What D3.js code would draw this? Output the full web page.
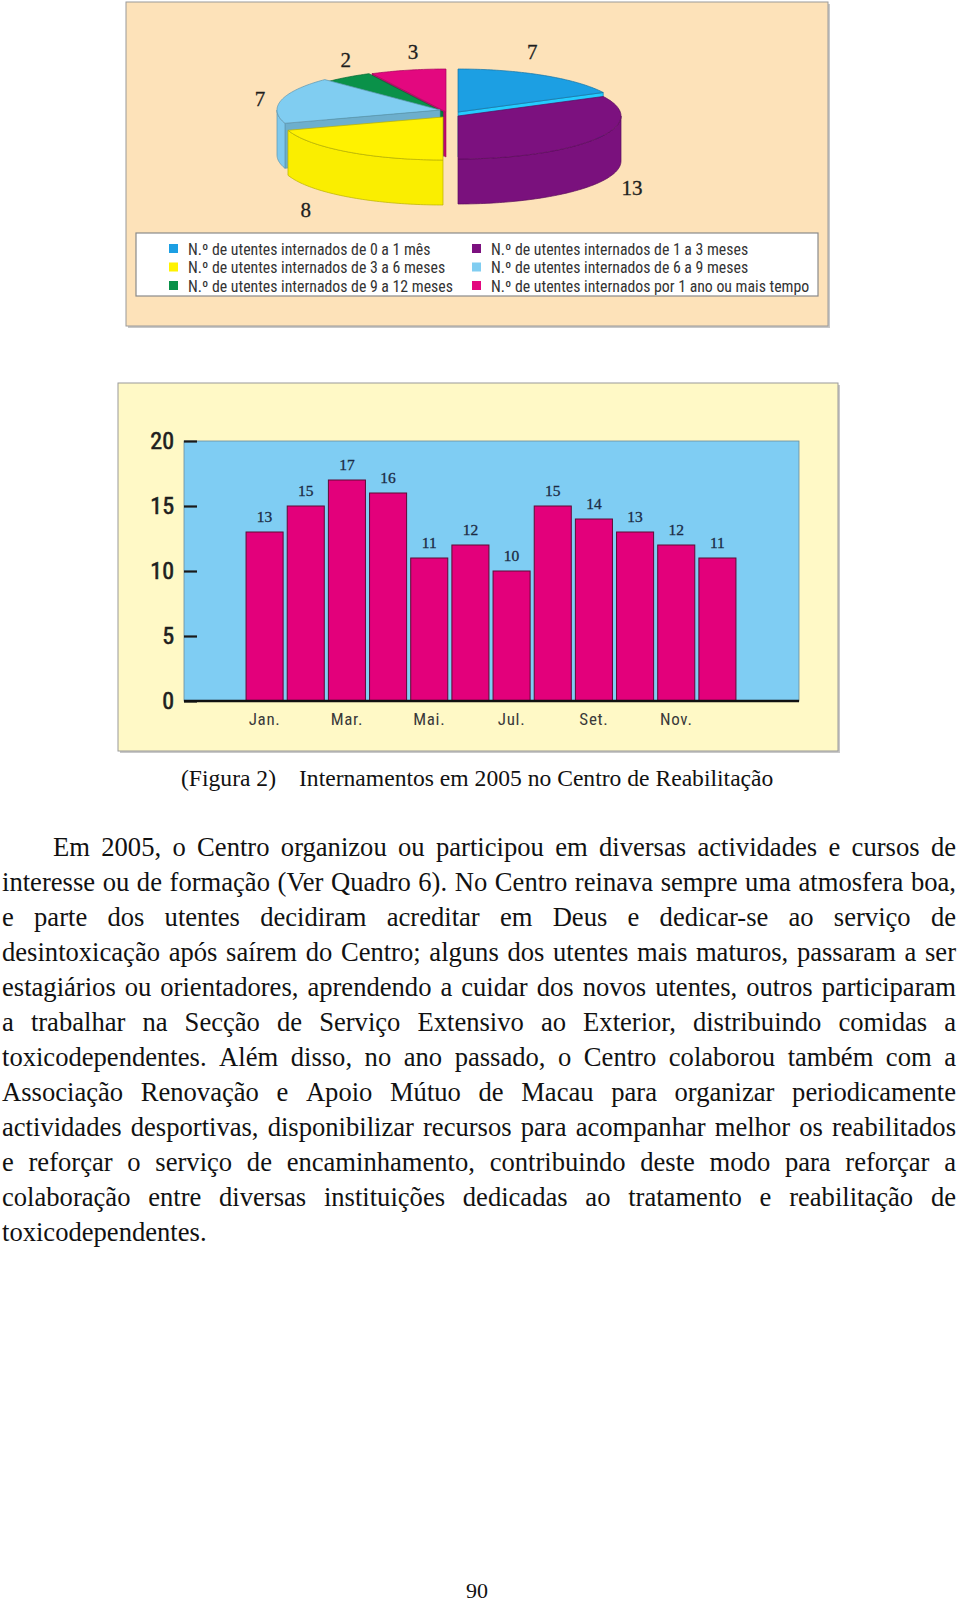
<!DOCTYPE html>
<html><head><meta charset="utf-8">
<script src="https://cdn.jsdelivr.net/npm/d3@7"></script>
<style>body{margin:0;background:#fff} svg{display:block}</style>
</head><body>
<svg id="page" width="960" height="1602"></svg>
<script>
// ---------- DATA ----------
const pieCategories = [
  "N.º de utentes internados de 0 a 1 mês",
  "N.º de utentes internados de 1 a 3 meses",
  "N.º de utentes internados de 3 a 6 meses",
  "N.º de utentes internados de 6 a 9 meses",
  "N.º de utentes internados de 9 a 12 meses",
  "N.º de utentes internados por 1 ano ou mais tempo"
];
const pieValues = [7, 13, 8, 7, 2, 3];
const pieColors = ["#1c9fe3", "#7c117f", "#fff200", "#80cdf1", "#0a9149", "#e3087f"];

const months = ["Jan.","Fev.","Mar.","Abr.","Mai.","Jun.","Jul.","Ago.","Set.","Out.","Nov.","Dez."];
const monthValues = [13, 15, 17, 16, 11, 12, 10, 15, 14, 13, 12, 11];
const monthTickLabels = ["Jan.","Mar.","Mai.","Jul.","Set.","Nov."];
const yTickValues = [0, 5, 10, 15, 20];

const captionLabel = "(Figura 2)";
const captionTitle = "Internamentos em 2005 no Centro de Reabilitação";
const bodyLines = [
  "Em 2005, o Centro organizou ou participou em diversas actividades e cursos de",
  "interesse ou de formação (Ver Quadro 6). No Centro reinava sempre uma atmosfera boa,",
  "e parte dos utentes decidiram acreditar em Deus e dedicar-se ao serviço de",
  "desintoxicação após saírem do Centro; alguns dos utentes mais maturos, passaram a ser",
  "estagiários ou orientadores, aprendendo a cuidar dos novos utentes, outros participaram",
  "a trabalhar na Secção de Serviço Extensivo ao Exterior, distribuindo comidas a",
  "toxicodependentes. Além disso, no ano passado, o Centro colaborou também com a",
  "Associação Renovação e Apoio Mútuo de Macau para organizar periodicamente",
  "actividades desportivas, disponibilizar recursos para acompanhar melhor os reabilitados",
  "e reforçar o serviço de encaminhamento, contribuindo deste modo para reforçar a",
  "colaboração entre diversas instituições dedicadas ao tratamento e reabilitação de",
  "toxicodependentes."
];
const pageNumber = "90";

// ---------- LAYOUT ----------
const svg = d3.select("#page");
const narrow = "'Liberation Sans Narrow','Roboto Condensed','Liberation Sans',sans-serif";
const serif = "'Liberation Serif','DejaVu Serif',serif";

function panel(x, y, w, h, fill) {
  svg.append("rect").attr("x", x + 2).attr("y", y + 2).attr("width", w).attr("height", h).attr("fill", "#c8c8c8");
  svg.append("rect").attr("x", x).attr("y", y).attr("width", w).attr("height", h)
    .attr("fill", fill).attr("stroke", "#9a9a9a").attr("stroke-width", 1);
}

// ===== PIE PANEL =====
panel(126, 2, 702, 324, "#fde2b9");

const P = { cx: 450, cy: 114, rx: 163, ry: 43, depth: 45 };
// per-slice explode offsets (layout)
const explode = [[8, -2], [8, 2], [-7, 3], [-10, -4], [-7, -2], [-4, -2]];
// label placement (layout)
const labelR = { rx: 184, ry: 62 };
const labelNudge = [[-22, -7], [17, -6], [-29, -3], [-1, 3], [11, -2], [10, 0]];
const arcs = d3.pie().sort(null).value(d => d)(pieValues);

function ept(a, cx, cy, dy) { return [cx + P.rx * Math.sin(a), cy - P.ry * Math.cos(a) + (dy || 0)]; }
function topPath(s, e, cx, cy) {
  const p = d3.path(); p.moveTo(cx, cy);
  const n = Math.max(4, Math.ceil((e - s) / 0.02));
  for (let i = 0; i <= n; i++) { const q = ept(s + (e - s) * i / n, cx, cy); p.lineTo(q[0], q[1]); }
  p.closePath(); return p.toString();
}
function sidePath(s, e, cx, cy) {
  const a0 = Math.max(s, Math.PI / 2), a1 = Math.min(e, 3 * Math.PI / 2);
  if (a1 <= a0) return null;
  const p = d3.path(); const n = Math.max(4, Math.ceil((a1 - a0) / 0.02));
  for (let i = 0; i <= n; i++) { const q = ept(a0 + (a1 - a0) * i / n, cx, cy); i ? p.lineTo(q[0], q[1]) : p.moveTo(q[0], q[1]); }
  for (let i = n; i >= 0; i--) { const q = ept(a0 + (a1 - a0) * i / n, cx, cy, P.depth); p.lineTo(q[0], q[1]); }
  p.closePath(); return p.toString();
}
function facePath(a, cx, cy) {
  const r = ept(a, cx, cy), rb = ept(a, cx, cy, P.depth);
  return `M${cx},${cy}L${r[0]},${r[1]}L${rb[0]},${rb[1]}L${cx},${cy + P.depth}Z`;
}
const gPie = svg.append("g");
const drawOrder = [5, 4, 3, 2, 0, 1];
drawOrder.forEach(i => {
  const a = arcs[i], cx = P.cx + explode[i][0], cy = P.cy + explode[i][1];
  const c = pieColors[i], dark = d3.color(c).darker(0.9);
  const faceFill = d3.color(c).darker(0.45);
  if (Math.sin(a.startAngle) < -0.05) gPie.append("path").attr("d", facePath(a.startAngle, cx, cy)).attr("fill", faceFill).attr("stroke", dark).attr("stroke-width", 0.6);
  if (Math.sin(a.endAngle) > 0.05) gPie.append("path").attr("d", facePath(a.endAngle, cx, cy)).attr("fill", d3.color(c).brighter(0.7)).attr("stroke", dark).attr("stroke-width", 0.6);
  const sp = sidePath(a.startAngle, a.endAngle, cx, cy);
  if (sp) gPie.append("path").attr("d", sp).attr("fill", d3.color(c).darker(0.05)).attr("stroke", dark).attr("stroke-width", 0.7);
  gPie.append("path").attr("d", topPath(a.startAngle, a.endAngle, cx, cy)).attr("fill", c).attr("stroke", dark).attr("stroke-width", 0.7);
});
// slice value labels
arcs.forEach((a, i) => {
  const m = (a.startAngle + a.endAngle) / 2;
  const cx = P.cx + explode[i][0], cy = P.cy + explode[i][1];
  const front = Math.cos(m) < 0;
  const lx = cx + labelR.rx * Math.sin(m) + labelNudge[i][0];
  const ly = cy - labelR.ry * Math.cos(m) + (front ? P.depth : 0) + labelNudge[i][1];
  gPie.append("text").attr("x", lx).attr("y", ly).attr("dy", "0.35em").attr("text-anchor", "middle")
    .attr("font-family", serif).attr("font-size", 21).attr("fill", "#1e1e1e")
    .attr("stroke", "#1e1e1e").attr("stroke-width", 0.3).text(pieValues[i]);
});

// legend
svg.append("rect").attr("x", 136).attr("y", 233).attr("width", 682).attr("height", 63)
  .attr("fill", "#fff").attr("stroke", "#8a8a8a").attr("stroke-width", 1.2);
const legendOrder = [[0, 0, 0], [1, 1, 0], [2, 0, 1], [3, 1, 1], [4, 0, 2], [5, 1, 2]];
const legX = [169, 472], legY = 249, legDy = 18.5;
legendOrder.forEach(([i, col, row]) => {
  const g = svg.append("g").attr("transform", `translate(${legX[col]},${legY + row * legDy})`);
  g.append("rect").attr("x", 0).attr("y", -5).attr("width", 9).attr("height", 9).attr("fill", pieColors[i]);
  g.append("text").attr("x", 19).attr("y", 0).attr("dy", "0.35em").attr("font-family", narrow)
    .attr("font-size", 15.8).attr("fill", "#333").text(pieCategories[i]);
});

// ===== BAR PANEL =====
panel(118, 383, 720, 368, "#fff9c6");
const B = { left: 184, right: 799, top: 441, bottom: 701 };
svg.append("rect").attr("x", B.left).attr("y", B.top).attr("width", B.right - B.left).attr("height", B.bottom - B.top)
  .attr("fill", "#7fcdf3").attr("stroke", "#6a8d9c").attr("stroke-width", 0.8);

const y = d3.scaleLinear().domain([0, 20]).range([B.bottom, B.top]);
const x = d3.scaleBand().domain(months).range([244, 738]).paddingInner(0.1).paddingOuter(0.05);

svg.append("g").selectAll("rect").data(monthValues).join("rect")
  .attr("x", (d, i) => x(months[i])).attr("width", x.bandwidth())
  .attr("y", d => y(d)).attr("height", d => y(0) - y(d))
  .attr("fill", "#e3007b").attr("stroke", "#5e0a35").attr("stroke-width", 1);

svg.append("g").selectAll("text").data(monthValues).join("text")
  .attr("x", (d, i) => x(months[i]) + x.bandwidth() / 2).attr("y", d => y(d) - 10)
  .attr("text-anchor", "middle").attr("font-family", serif).attr("font-size", 15.5)
  .attr("fill", "#1c2b44").attr("stroke", "#1c2b44").attr("stroke-width", 0.3).text(d => d);

const yAxis = svg.append("g").attr("transform", `translate(${B.left},0)`)
  .call(d3.axisLeft(y).tickValues(yTickValues).tickSize(-13).tickPadding(10));
yAxis.select(".domain").remove();
yAxis.selectAll(".tick line").attr("stroke", "#1a1a1a").attr("stroke-width", 2.2);
yAxis.selectAll(".tick text").attr("font-family", narrow).attr("font-size", 24).attr("fill", "#1e1e1e")
  .attr("stroke", "#1e1e1e").attr("stroke-width", 0.6);

const xAxis = svg.append("g").attr("transform", `translate(0,${B.bottom})`)
  .call(d3.axisBottom(x).tickValues(monthTickLabels).tickSize(0).tickPadding(12));
xAxis.select(".domain").remove();
xAxis.selectAll(".tick text").attr("font-family", narrow).attr("font-size", 17).attr("letter-spacing", 0.7).attr("fill", "#3a3a3a");

svg.append("line").attr("x1", B.left).attr("x2", B.right).attr("y1", B.bottom).attr("y2", B.bottom)
  .attr("stroke", "#111").attr("stroke-width", 2.5);

// ===== CAPTION =====
svg.append("text").attr("x", 181).attr("y", 786).attr("font-family", serif).attr("font-size", 23.6)
  .attr("fill", "#111").text(captionLabel);
svg.append("text").attr("x", 299).attr("y", 786).attr("font-family", serif).attr("font-size", 23.6)
  .attr("fill", "#111").text(captionTitle);

// ===== BODY TEXT (justified) =====
const body = svg.append("g").attr("font-family", serif).attr("font-size", 26.6).attr("fill", "#111");
const textLeft = 2, textRight = 956, firstIndent = 53, baseline0 = 856, lineH = 35, minGap = 5;
bodyLines.forEach((line, li) => {
  const words = line.split(" ");
  const yb = baseline0 + li * lineH;
  const x0 = li === 0 ? firstIndent : textLeft;
  const nodes = words.map(w => body.append("text").attr("y", yb).text(w));
  let widths = nodes.map(n => n.node().getComputedTextLength());
  const last = li === bodyLines.length - 1;
  const avail = textRight - x0;
  let total = d3.sum(widths);
  if (!last && total + minGap * (words.length - 1) > avail) {
    const f = (avail - minGap * (words.length - 1)) / total;
    widths = widths.map(w => w * f);
    nodes.forEach((n, i) => n.attr("textLength", widths[i]).attr("lengthAdjust", "spacingAndGlyphs"));
    total = d3.sum(widths);
  }
  const gap = last ? 6.6 : (avail - total) / (words.length - 1);
  let cx = x0;
  nodes.forEach((n, i) => { n.attr("x", cx); cx += widths[i] + gap; });
});

// page number
svg.append("text").attr("x", 477).attr("y", 1598).attr("text-anchor", "middle")
  .attr("font-family", serif).attr("font-size", 22).attr("fill", "#111").text(pageNumber);
</script>
</body></html>
